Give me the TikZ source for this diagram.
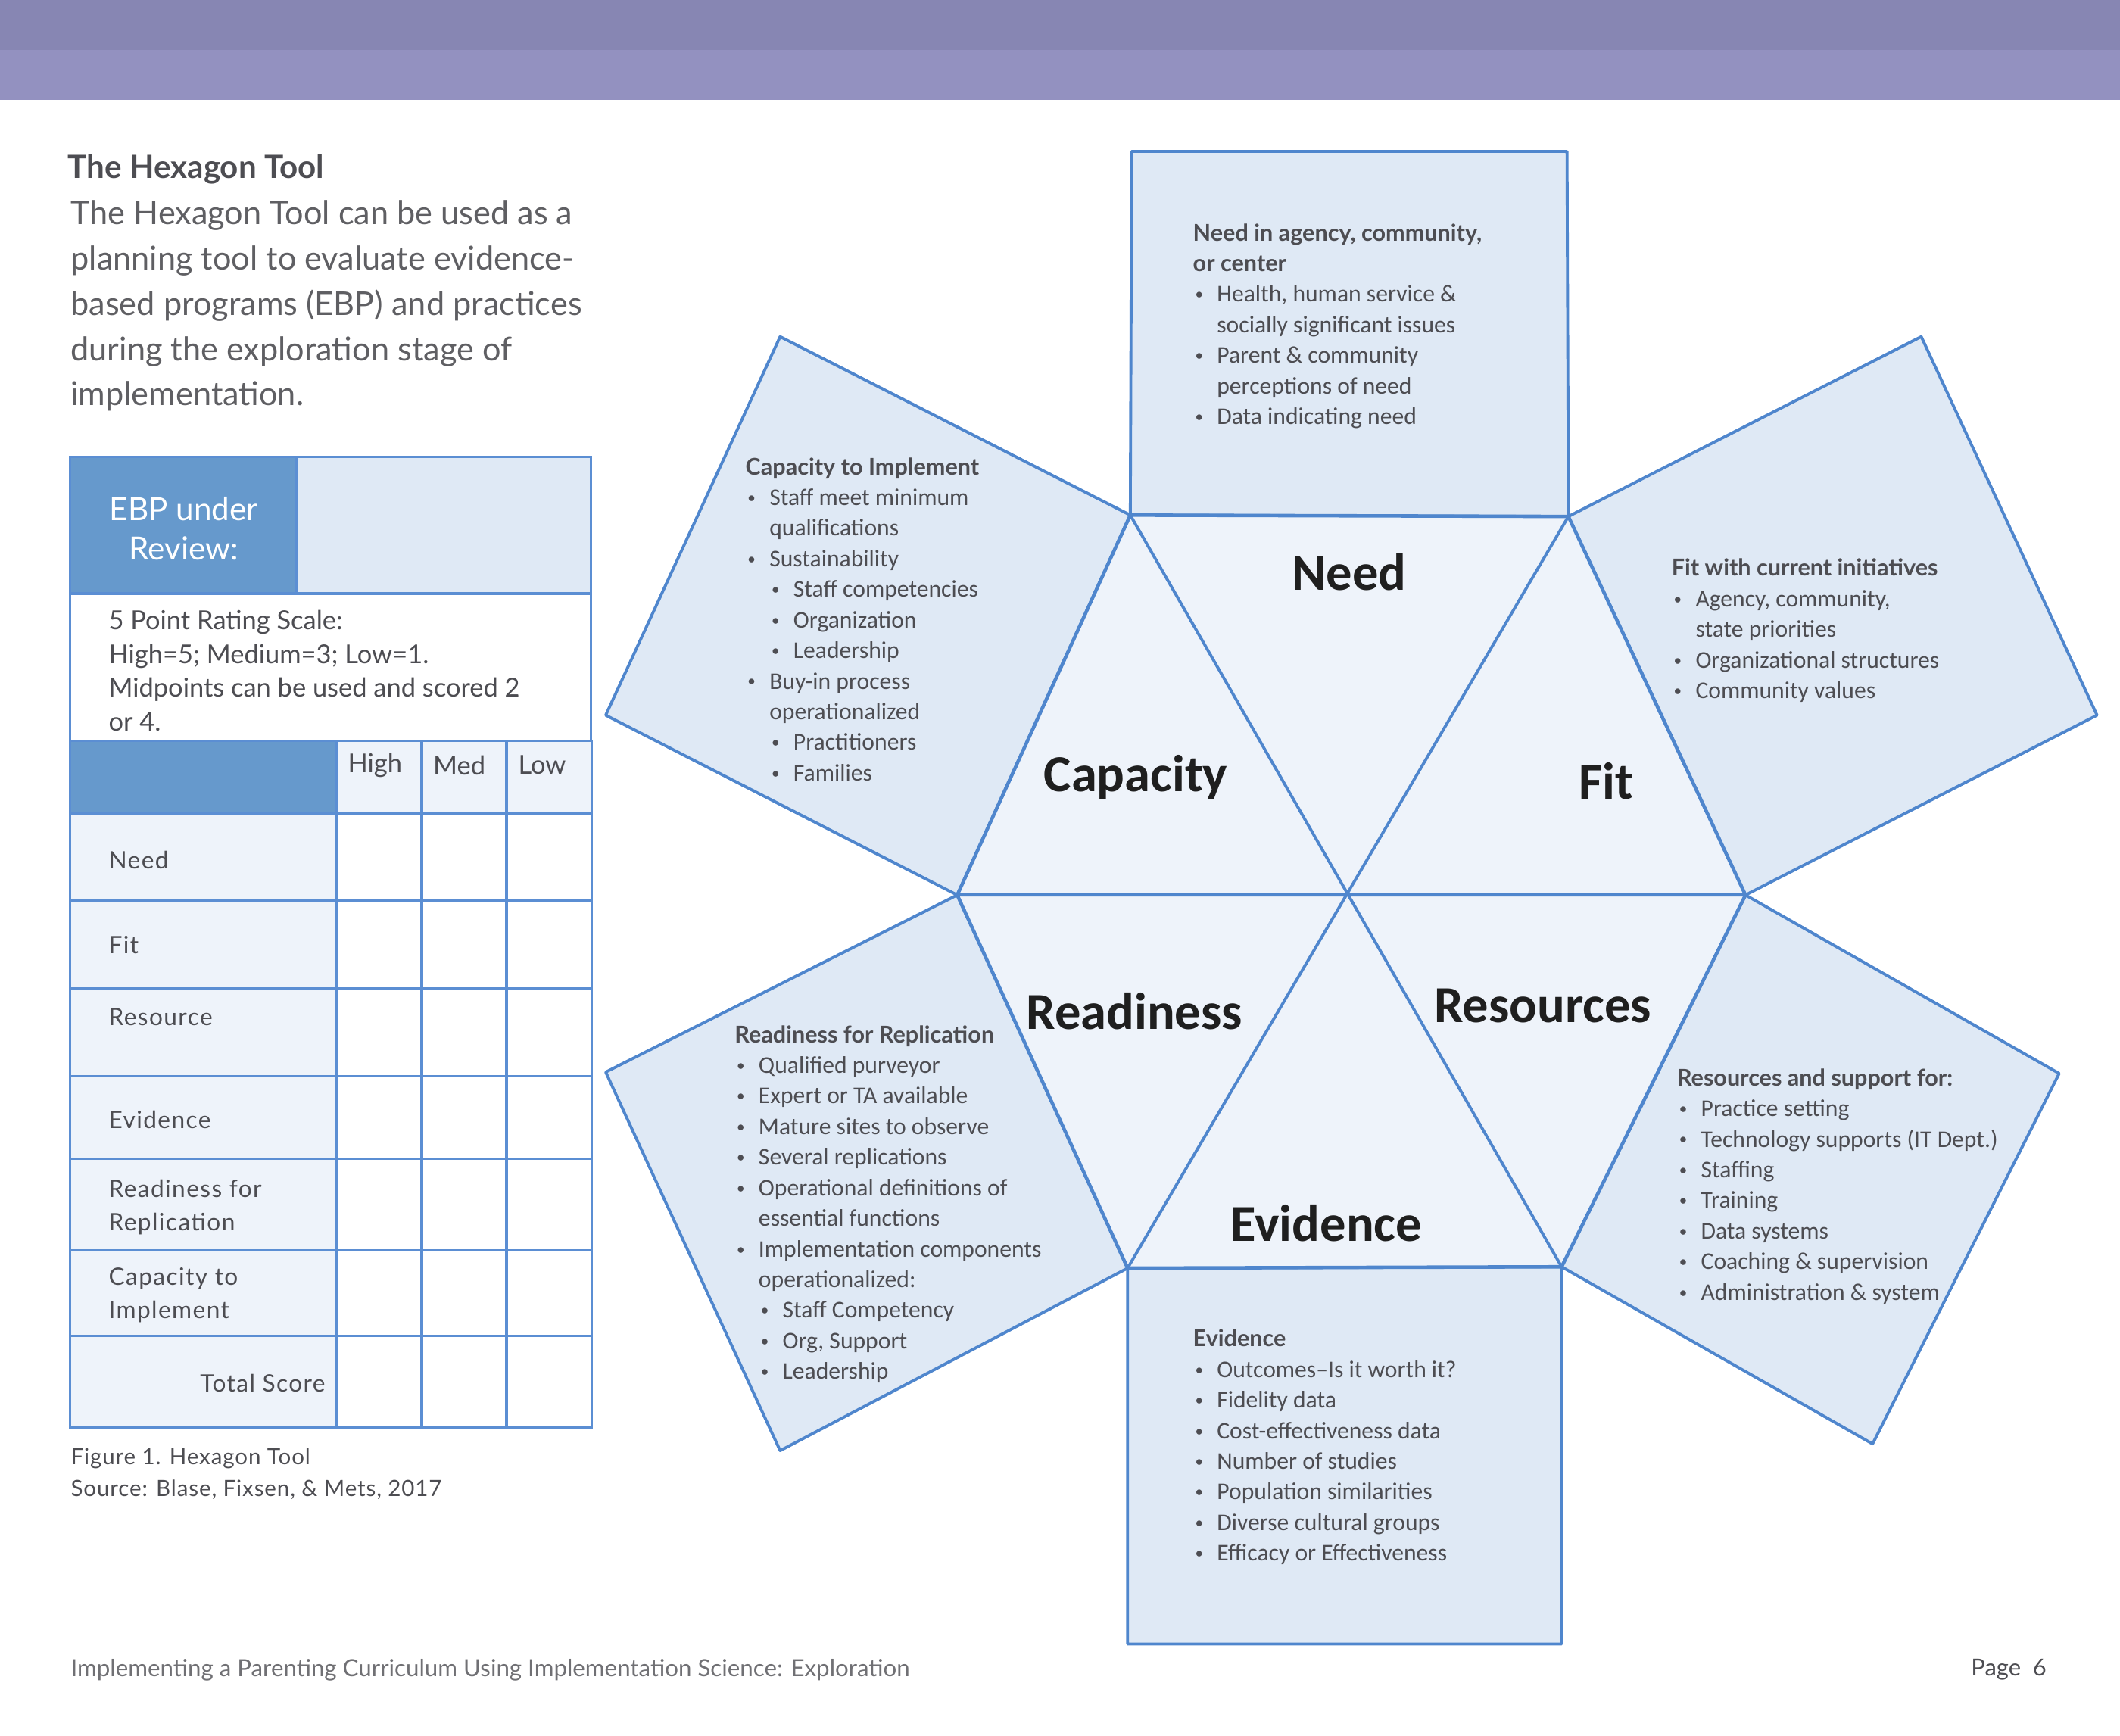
\documentclass[tikz,border=0pt]{standalone}
\usepackage{fontspec}
\setmainfont{Carlito}
\newfontfamily\leftfont{Lato}
\newfontfamily\rowfont[LetterSpace=4.5]{Lato}
\newfontfamily\capfont[LetterSpace=3]{Lato}
\usetikzlibrary{positioning,calc}
\definecolor{BarDark}{HTML}{8786B3}
\definecolor{BarLight}{HTML}{9391C0}
\definecolor{HexLine}{HTML}{4F86CD}
\definecolor{HexFill}{HTML}{EEF3FA}
\definecolor{BoxFill}{HTML}{DFE9F5}
\definecolor{TabBlue}{HTML}{6699CC}
\definecolor{TabLine}{HTML}{5B8ED3}
\definecolor{TextGray}{HTML}{4D4D52}
\definecolor{FootGray}{HTML}{707074}

\newcommand{\bdot}{\makebox[9pt][l]{\hspace{0.8pt}\raisebox{0.2ex}{\fontsize{6}{6}\selectfont\textbullet}}}
\newcommand{\sitm}{\hspace*{9pt}\bdot}
\newcommand{\cnt}{\hspace*{9pt}}
\newcommand{\hd}{\leftfont\bfseries\fontsize{8.7}{11.5}\selectfont}

\tikzset{
  boxtxt/.style={anchor=north west,inner sep=0pt,align=left,text=TextGray,
    font=\fontsize{9}{11.5}\selectfont},
  hexlbl/.style={font=\bfseries\fontsize{19.5}{20}\selectfont,text=black!88},
  petal/.style={draw=HexLine,line width=1.1pt,fill=BoxFill,line join=round},
  tabline/.style={draw=TabLine,line width=0.9pt},
  rowlbl/.style={anchor=west,inner sep=0pt,align=left,text=TextGray,
    font=\rowfont\fontsize{9}{12.5}\selectfont},
}

\begin{document}
\begin{tikzpicture}[x=0.0178571cm,y=-0.0178571cm]
\useasboundingbox (0,0) rectangle (1568,1284);
% header band
\fill[BarDark] (0,0) rectangle (1568,37);
\fill[BarLight] (0,37) rectangle (1568,74);

% left column
\node[anchor=west,inner sep=0pt,text=TextGray,font=\leftfont\bfseries\fontsize{12}{14}\selectfont]
  (title) at (50,125) {The Hexagon Tool};
\node[anchor=north west,inner sep=0pt,align=left,text=TextGray!90,
  font=\leftfont\fontsize{12.3}{17}\selectfont] (intro) at (52,148)
  {The Hexagon Tool can be used as a\\planning tool to evaluate evidence-\\based programs (EBP) and practices\\during the exploration stage of\\implementation.};

% rating table
\draw[tabline,fill=TabBlue] (52,338) rectangle (219,439);
\draw[tabline,fill=BoxFill] (219,338) rectangle (437,439);
\draw[tabline,fill=white] (52,439) rectangle (437,548);
\draw[tabline,fill=TabBlue] (52,548) rectangle (249,602);
\foreach \x in {249,312,375}
  \draw[tabline,fill=HexFill] (\x,548) rectangle +(62.67,54);
\foreach \ya/\yb in {602/666,666/731,731/796,796/857,857/925,925/988,988/1056}{
  \draw[tabline,fill=HexFill] (52,\ya) rectangle (249,\yb);
  \foreach \x in {249,312,375}
    \draw[tabline,fill=white] (\x,\ya) rectangle (\x+62.67,\yb);
}
\node[align=center,text=white,font=\leftfont\fontsize{12}{15}\selectfont]
  (ebp) at (136,391) {EBP under\\Review:};
\node[anchor=north west,inner sep=0pt,align=left,text=TextGray,
  font=\leftfont\fontsize{9.8}{12.7}\selectfont] (scale) at (80,451)
  {5 Point Rating Scale:\\High=5; Medium=3; Low=1.\\Midpoints can be used and scored 2\\or 4.};
\node[anchor=west,inner sep=0pt,text=TextGray,font=\leftfont\fontsize{9.8}{12}\selectfont]
  (high) at (257,566) {High};
\node[anchor=west,inner sep=0pt,text=TextGray,font=\leftfont\fontsize{9.8}{12}\selectfont]
  (med) at (320,566) {Med};
\node[anchor=west,inner sep=0pt,text=TextGray,font=\leftfont\fontsize{9.8}{12}\selectfont]
  (low) at (383,566) {Low};
\node[rowlbl] (rneed) at (80,636) {Need};
\node[rowlbl] (rfit) at (80,699) {Fit};
\node[rowlbl] (rres) at (80,752) {Resource};
\node[rowlbl] (revi) at (80,828) {Evidence};
\node[rowlbl] (rread) at (80,893) {Readiness for\\Replication};
\node[rowlbl] (rcap) at (80,958) {Capacity to\\Implement};
\node[rowlbl,anchor=east] (rtot) at (241,1023) {Total Score};
\node[anchor=north west,inner sep=0pt,align=left,text=TextGray,
  font=\capfont\fontsize{8.4}{11.8}\selectfont] (caption) at (52,1071)
  {Figure 1. Hexagon Tool\\Source: Blase, Fixsen, \& Mets, 2017};

% hexagon corners
\coordinate (hc) at (998,662);
\coordinate (htl) at (836,381);
\coordinate (htr) at (1160,382);
\coordinate (hr) at (1291,662);
\coordinate (hbr) at (1155,937);
\coordinate (hbl) at (834,938);
\coordinate (hl) at (708,662);

% outer petals
\draw[petal] (htl) -- (837,112) -- (1159,112) -- (htr) -- cycle;
\draw[petal] (htl) -- (577,249) -- (448,529) -- (hl) -- cycle;
\draw[petal] (htr) -- (1421,249) -- (1551,529) -- (hr) -- cycle;
\draw[petal] (hr) -- (1523,794) -- (1385,1068) -- (hbr) -- cycle;
\draw[petal] (hbr) -- (1155,1216) -- (834,1216) -- (hbl) -- cycle;
\draw[petal] (hl) -- (448,793) -- (577,1073) -- (hbl) -- cycle;

% inner hexagon
\draw[petal,fill=HexFill,line width=1.3pt] (htl) -- (htr) -- (hr) -- (hbr) -- (hbl) -- (hl) -- cycle;
\draw[draw=HexLine,line width=1.1pt] (htl) -- (hbr) (htr) -- (hbl) (hl) -- (hr);

\node[hexlbl] (lneed) at (998,423) {Need};
\node[hexlbl] (lcap) at (840,575) {Capacity};
\node[hexlbl] (lfit) at (1188,578) {Fit};
\node[hexlbl] (lread) at (839,748) {Readiness};
\node[hexlbl] (lres) at (1141,744) {Resources};
\node[hexlbl] (levi) at (981,905) {Evidence};

% petal texts
\node[boxtxt] (tneed) at (882,165)
  {{\hd Need in agency, community,}\\{\hd or center}\\
   \bdot Health, human service \&\\\cnt socially significant issues\\
   \bdot Parent \& community\\\cnt perceptions of need\\
   \bdot Data indicating need};
\node[boxtxt] (tcap) at (551,338)
  {{\hd Capacity to Implement}\\
   \bdot Staff meet minimum\\\cnt qualifications\\
   \bdot Sustainability\\
   \sitm Staff competencies\\\sitm Organization\\\sitm Leadership\\
   \bdot Buy-in process\\\cnt operationalized\\
   \sitm Practitioners\\\sitm Families};
\node[boxtxt] (tfit) at (1236,413)
  {{\hd Fit with current initiatives}\\
   \bdot Agency, community,\\\cnt state priorities\\
   \bdot Organizational structures\\
   \bdot Community values};
\node[boxtxt] (tread) at (543,758)
  {{\hd Readiness for Replication}\\
   \bdot Qualified purveyor\\
   \bdot Expert or TA available\\
   \bdot Mature sites to observe\\
   \bdot Several replications\\
   \bdot Operational definitions of\\\cnt essential functions\\
   \bdot Implementation components\\\cnt operationalized:\\
   \sitm Staff Competency\\\sitm Org, Support\\\sitm Leadership};
\node[boxtxt] (tres) at (1240,790)
  {{\hd Resources and support for:}\\
   \bdot Practice setting\\
   \bdot Technology supports (IT Dept.)\\
   \bdot Staffing\\
   \bdot Training\\
   \bdot Data systems\\
   \bdot Coaching \& supervision\\
   \bdot Administration \& system};
\node[boxtxt] (tevi) at (882,983)
  {{\hd Evidence}\\
   \bdot Outcomes--Is it worth it?\\
   \bdot Fidelity data\\
   \bdot Cost-effectiveness data\\
   \bdot Number of studies\\
   \bdot Population similarities\\
   \bdot Diverse cultural groups\\
   \bdot Efficacy or Effectiveness};

% footer
\node[anchor=west,inner sep=0pt,text=FootGray,font=\leftfont\fontsize{8.9}{10}\selectfont]
  (foot) at (52,1235) {Implementing a Parenting Curriculum Using Implementation Science: Exploration};
\node[anchor=east,inner sep=0pt,text=TextGray,font=\leftfont\fontsize{8.8}{10}\selectfont]
  (page) at (1514,1235) {Page\ \ 6};
\end{tikzpicture}
\end{document}
